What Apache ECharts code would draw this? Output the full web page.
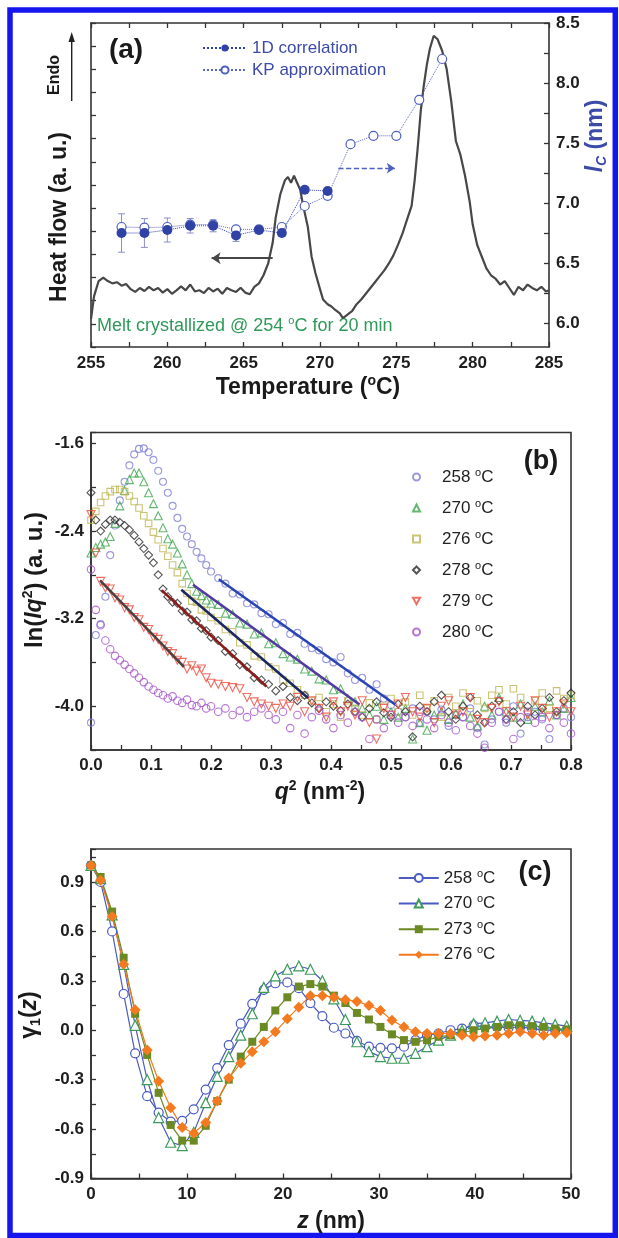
<!DOCTYPE html>
<html>
<head>
<meta charset="utf-8">
<script src="https://cdn.jsdelivr.net/npm/echarts@6/dist/echarts.min.js"></script>
<style>
  html, body { margin: 0; padding: 0; background: #fff; }
  #chart { width: 619px; height: 1238px; }
</style>
</head>
<body>
<div id="chart"></div>
<script>
const FONT = '"Liberation Sans", Arial, Helvetica, sans-serif'
const AXIS = '#333'

// ---- panel (a): DSC trace + long period ----
const dscT = [255.0, 255.2, 255.5, 255.8, 256.1, 256.4, 256.7, 257.0, 257.3, 257.6, 257.9, 258.2, 258.5, 258.8, 259.1, 259.4, 259.7, 260.0, 260.3, 260.6, 260.9, 261.2, 261.5, 261.8, 262.1, 262.4, 262.7, 263.0, 263.3, 263.6, 263.9, 264.2, 264.5, 264.8, 265.1, 265.4, 265.7, 266.0, 266.3, 266.6, 266.9, 267.1, 267.4, 267.7, 267.9, 268.1, 268.3, 268.5, 268.7, 268.9, 269.2, 269.45, 269.7, 270.0, 270.2, 270.5, 270.75, 271.0, 271.3, 271.5, 271.7, 271.9, 272.1, 272.4, 272.7, 273.0, 273.3, 273.6, 273.9, 274.2, 274.5, 274.8, 275.1, 275.4, 275.7, 276.0, 276.2, 276.4, 276.6, 276.8, 277.0, 277.2, 277.45, 277.7, 278.0, 278.3, 278.6, 278.9, 279.2, 279.5, 279.8, 280.0, 280.3, 280.6, 280.9, 281.2, 281.5, 281.8, 282.1, 282.4, 282.7, 283.0, 283.3, 283.6, 283.9, 284.2, 284.5, 284.8, 285.0]
const dscHF = [1.2, 2.2, 2.85, 3.0, 2.85, 2.75, 2.8, 2.65, 2.72, 2.5, 2.38, 2.55, 2.42, 2.6, 2.45, 2.55, 2.35, 2.5, 2.3, 2.45, 2.62, 2.45, 2.7, 2.4, 2.45, 2.33, 2.55, 2.4, 2.52, 2.3, 2.55, 2.45, 2.38, 2.56, 2.35, 2.28, 2.6, 2.75, 3.1, 3.6, 4.5, 5.6, 6.6, 7.2, 7.35, 7.1, 7.4, 7.1, 6.8, 6.1, 5.2, 3.9, 3.2, 2.5, 2.05, 1.85, 1.75, 1.6, 1.45, 1.25, 1.35, 1.45, 1.55, 1.85, 2.05, 2.3, 2.55, 2.8, 3.05, 3.3, 3.6, 3.95, 4.4, 4.9, 5.5, 6.1, 7.2, 8.6, 10.2, 11.3, 12.2, 12.9, 13.45, 13.3, 12.8, 12.0, 10.6, 8.9, 8.3, 7.4, 6.3, 5.3, 4.4, 3.9, 3.4, 3.1, 2.95, 2.7, 2.85, 2.55, 2.25, 2.6, 2.45, 2.7, 2.55, 2.45, 2.6, 2.4, 2.45]

const lcT = [257, 258.5, 260, 261.5, 263, 264.5, 266, 267.5, 269, 270.5, 272, 273.5, 275, 276.5, 278]
const lc1D = [6.75, 6.75, 6.775, 6.81, 6.81, 6.73, 6.775, 6.75, 7.11, 7.1]
const lc1DErr = [0.16, 0.12, 0.1, 0.06, 0.05, 0.05, 0.03, 0.03, 0.02, 0.02]
const lcKP = [6.8, 6.795, 6.8, 6.82, 6.82, 6.78, 6.78, 6.8, 6.975, 7.06, 7.49, 7.56, 7.56, 7.86, 8.2]
const arrowLeft = [[266.9, 6.54], [262.9, 6.54]]
const arrowRight = [[271.2, 7.29], [274.9, 7.29]]
const lcTicks = [6.0, 6.25, 6.5, 6.75, 7.0, 7.25, 7.5, 7.75, 8.0, 8.25, 8.5]
const lcLabels = [6.0, 6.5, 7.0, 7.5, 8.0, 8.5]

// ---- panel (b): ln(Iq^2) vs q^2 ----
const q2 = [0, 0.008, 0.016, 0.024, 0.032, 0.04, 0.048, 0.056, 0.064, 0.072, 0.08, 0.088, 0.096, 0.104, 0.112, 0.12, 0.128, 0.136, 0.144, 0.152, 0.16, 0.168, 0.176, 0.184, 0.192, 0.2, 0.212, 0.224, 0.236, 0.248, 0.26, 0.272, 0.284, 0.296, 0.308, 0.32, 0.332, 0.344, 0.356, 0.368, 0.38, 0.392, 0.404, 0.416, 0.428, 0.44, 0.452, 0.464, 0.476, 0.488, 0.5, 0.512, 0.524, 0.536, 0.548, 0.56, 0.572, 0.584, 0.596, 0.608, 0.62, 0.632, 0.644, 0.656, 0.668, 0.68, 0.692, 0.704, 0.716, 0.728, 0.74, 0.752, 0.764, 0.776, 0.788, 0.8]
const s258 = [-4.15, -3.35, -3.25, -3.0, -2.62, -2.35, -2.12, -1.95, -1.80, -1.70,
  -1.65, -1.645, -1.68, -1.75, -1.85, -1.95, -2.05, -2.17, -2.28, -2.38,
  -2.45, -2.52, -2.59, -2.65, -2.71, -2.77,
  -2.83, -2.88, -2.97, -2.98, -3.06, -3.07, -3.15, -3.16, -3.25, -3.24,
  -3.34, -3.33, -3.43, -3.47, -3.49, -3.57, -3.60, -3.55, -3.70, -3.76,
  -3.74, -3.85, -3.80, -3.93, -3.99, -4.05, -4.1, -4.02, -4.15, -4.05,
  -4.12, -4.03, -4.18, -4.08, -4.1, -4.02, -4.2, -4.35, -4.12, -4.05,
  -4.15, -4.0, -4.25, -4.1, -4.05, -4.12, -4.3, -4.08, -4.02, -4.1]
const s270 = [-2.6, -2.55, -2.52, -2.5, -2.45, -2.33, -2.17, -2.03, -1.93, -1.87,
  -1.87, -1.95, -2.05, -2.15, -2.26, -2.37, -2.47, -2.52, -2.60, -2.70,
  -2.80, -2.88, -2.95, -2.99, -3.03, -3.06,
  -3.07, -3.15, -3.16, -3.24, -3.25, -3.34, -3.33, -3.43, -3.42, -3.52,
  -3.55, -3.57, -3.66, -3.68, -3.75, -3.76, -3.85, -3.84, -3.93, -3.96,
  -4.02, -4.08, -4.0, -4.12, -4.05, -4.1, -4.02, -4.3, -4.15, -4.22,
  -4.08, -4.05, -4.12, -4.07, -3.98, -4.1, -4.18, -4.0, -4.08, -3.92,
  -4.05, -4.1, -3.98, -4.12, -4.0, -4.05, -3.95, -4.08, -4.02, -3.92]
const s276 = [-2.3, -2.22, -2.14, -2.08, -2.04, -2.02, -2.02, -2.04, -2.08, -2.13,
  -2.19, -2.26, -2.33, -2.41, -2.48, -2.56, -2.63, -2.71, -2.78, -2.88,
  -2.97, -3.04, -3.05, -3.12, -3.13, -3.19,
  -3.22, -3.30, -3.32, -3.42, -3.44, -3.54, -3.55, -3.64, -3.66, -3.76,
  -3.79, -3.85, -3.90, -3.95, -3.92, -4.05, -3.98, -4.1, -3.95, -4.02,
  -4.08, -3.97, -4.12, -4.0, -3.93, -4.05, -3.96, -4.08, -3.9, -4.02,
  -3.95, -4.1, -3.92, -4.0, -3.88, -4.05, -3.95, -4.02, -3.9, -3.85,
  -3.98, -3.84, -3.92, -4.05, -3.95, -3.88, -4.02, -3.86, -3.93, -3.9]
const s278 = [-2.05, -2.3, -2.4, -2.34, -2.3, -2.3, -2.32, -2.35, -2.39, -2.44,
  -2.5, -2.56, -2.62, -2.69, -2.8, -2.93, -3.0, -3.05, -3.06, -3.13,
  -3.14, -3.21, -3.22, -3.29, -3.31, -3.37,
  -3.40, -3.50, -3.52, -3.62, -3.64, -3.74, -3.76, -3.80, -3.86, -3.82,
  -3.92, -3.95, -3.9, -3.97, -4.02, -3.96, -4.0, -4.04, -3.98, -4.05,
  -4.1, -4.02, -3.96, -4.06, -4.1, -3.98, -4.05, -4.28, -4.0, -4.05,
  -3.96, -3.9, -4.05, -4.12, -4.0, -3.92, -4.08, -4.15, -4.0, -3.95,
  -4.12, -4.05, -4.15, -4.0, -4.08, -4.02, -3.92, -4.05, -3.95, -3.88]
const s279 = [-2.25, -2.6, -2.86, -2.92, -2.93, -3.01, -3.03, -3.10, -3.12, -3.19,
  -3.21, -3.28, -3.30, -3.37, -3.39, -3.45, -3.50, -3.52, -3.58, -3.60,
  -3.66, -3.63, -3.68, -3.66, -3.74, -3.79,
  -3.8, -3.82, -3.83, -3.84, -3.92, -3.96, -3.98, -4.0, -4.02, -3.98,
  -4.0, -3.92, -4.05, -3.95, -4.02, -4.1, -3.96, -4.05, -4.0, -4.08,
  -3.95, -4.15, -4.3, -4.02, -4.08, -3.98, -3.92, -4.05, -4.1, -4.02,
  -4.15, -4.0, -3.95, -4.08, -4.05, -3.92, -4.12, -4.15, -4.02, -3.96,
  -4.05, -4.1, -4.0, -4.08, -3.95, -4.02, -4.1, -4.05, -3.98, -4.05]
const s280 = [-2.75, -3.12, -3.26, -3.4, -3.48, -3.54, -3.58, -3.62, -3.66, -3.7,
  -3.74, -3.78, -3.82, -3.85, -3.88, -3.9, -3.93, -3.91, -3.95, -3.97,
  -3.94, -3.99, -4.0, -3.97, -4.02, -4.0,
  -4.05, -4.02, -4.08, -4.04, -4.1, -4.05, -4.02, -4.08, -4.12, -4.05,
  -4.2, -4.08, -4.25, -4.1, -4.04, -4.12, -4.2, -4.08, -4.15, -4.05,
  -4.1, -4.3, -4.12, -4.2, -4.08, -4.15, -4.1, -4.18, -4.05, -4.12,
  -4.2, -4.08, -4.15, -4.22, -4.1, -4.18, -4.25, -4.38, -4.15, -4.05,
  -4.12, -4.3, -4.1, -4.05, -4.15, -4.1, -4.2, -4.08, -4.15, -4.25]
const fit258 = [[0.213, -2.84], [0.507, -3.985]]
const fit270 = [[0.17, -2.89], [0.4475, -3.985]]
const fit276 = [[0.1505, -2.937], [0.3617, -3.925]]
const fit278 = [[0.1175, -2.94], [0.2924, -3.82]]
const fit279 = [[0.015, -2.85], [0.155, -3.64]]

// ---- panel (c): correlation function ----
const zc = [0, 1.0, 2.2, 3.4, 4.6, 5.85, 7.05, 8.3, 9.5, 10.7, 11.95, 13.15, 14.35, 15.6, 16.8, 18.0, 19.2, 20.45, 21.65, 22.85, 24.1, 25.3, 26.5, 27.7, 28.95, 30.15, 31.35, 32.6, 33.8, 35.0, 36.2, 37.45, 38.65, 39.85, 41.05, 42.3, 43.5, 44.7, 45.95, 47.15, 48.35, 49.55]
const g258 = [1.0, 0.9, 0.6, 0.22, -0.14, -0.40, -0.50, -0.555, -0.55, -0.48,
  -0.36, -0.23, -0.09, 0.04, 0.16, 0.245, 0.285, 0.29, 0.255, 0.165,
  0.085, 0.015, -0.02, -0.065, -0.10, -0.107, -0.11, -0.10, -0.06, -0.03,
  -0.02, 0.0, 0.01, 0.03, 0.02, 0.02, 0.015, 0.02, 0.01, 0.0, 0.0, 0.0]
const g270 = [1.0, 0.92, 0.70, 0.40, 0.03, -0.30, -0.53, -0.68, -0.70, -0.62,
  -0.44, -0.28, -0.16, -0.03, 0.10, 0.26, 0.33, 0.37, 0.39, 0.37,
  0.30, 0.19, 0.065, -0.07, -0.13, -0.16, -0.17, -0.17, -0.14, -0.10,
  -0.06, -0.03, 0.0, 0.04, 0.045, 0.055, 0.065, 0.06, 0.055, 0.045, 0.035, 0.025]
const g273 = [1.0, 0.93, 0.72, 0.44, 0.10, -0.15, -0.38, -0.575, -0.67, -0.67,
  -0.58, -0.43, -0.30, -0.16, -0.07, 0.02, 0.12, 0.20, 0.265, 0.28,
  0.265, 0.21, 0.165, 0.105, 0.065, 0.02, -0.025, -0.06, -0.07, -0.06,
  -0.04, -0.03, -0.015, 0.0, 0.01, 0.02, 0.03, 0.03, 0.025, 0.02, 0.01, 0.005]
const g276 = [1.0, 0.91, 0.69, 0.40, 0.125, -0.12, -0.31, -0.47, -0.59, -0.625,
  -0.56, -0.43, -0.29, -0.20, -0.13, -0.07, -0.01, 0.07, 0.14, 0.21,
  0.21, 0.20, 0.185, 0.175, 0.15, 0.12, 0.06, 0.02, -0.01, -0.02,
  -0.02, -0.02, -0.03, -0.04, -0.035, -0.03, -0.02, -0.01, -0.02, -0.03, -0.02, -0.015]

const pairs = (xs, ys) => ys.map((y, i) => [xs[i], y])

const tickLabel = { color: '#1e1e1e', fontSize: 17, fontWeight: 'bold', fontFamily: FONT }
const axisLine = { show: true, onZero: false, lineStyle: { color: AXIS, width: 1.6 } }
const axisTick = { show: true, inside: true, length: 5, lineStyle: { color: AXIS, width: 1.3 } }

function renderErr(params, api) {
  const x = api.value(0)
  const top = api.coord([x, api.value(2)])
  const bot = api.coord([x, api.value(1)])
  const w = 3.5
  const style = { stroke: '#8b90c6', lineWidth: 1 }
  return {
    type: 'group',
    children: [
      { type: 'line', shape: { x1: top[0], y1: top[1], x2: bot[0], y2: bot[1] }, style },
      { type: 'line', shape: { x1: top[0] - w, y1: top[1], x2: top[0] + w, y2: top[1] }, style },
      { type: 'line', shape: { x1: bot[0] - w, y1: bot[1], x2: bot[0] + w, y2: bot[1] }, style }
    ]
  }
}

const supRich = (size) => ({ fontSize: size, lineHeight: 10, verticalAlign: 'top', fontFamily: FONT })
const degName = (name) => name.slice(2) + ' {s|o}C'

function label(text, x, y, size, opts = {}) {
  return {
    type: 'text', x, y, rotation: opts.rotate ? Math.PI / 2 : 0, silent: true,
    style: {
      text, fontSize: size, fontWeight: opts.weight || 'bold', fontFamily: FONT,
      fill: opts.color || '#1a1a1a', align: opts.align || 'center', verticalAlign: 'middle',
      lineHeight: size + 4, rich: opts.rich || {}
    }
  }
}

const titleRich = {
  s: { fontSize: 14, fontWeight: 'bold', lineHeight: 12, verticalAlign: 'top', fontFamily: FONT },
  i: { fontSize: 23, fontWeight: 'bold', fontStyle: 'italic', lineHeight: 27, fontFamily: FONT },
  sub: { fontSize: 14, fontWeight: 'bold', lineHeight: 12, verticalAlign: 'bottom', fontFamily: FONT },
  ib: { fontSize: 14, fontWeight: 'bold', fontStyle: 'italic', lineHeight: 12, verticalAlign: 'bottom', fontFamily: FONT }
}

const chart = echarts.init(document.getElementById('chart'))

chart.setOption({
  animation: false,
  backgroundColor: '#fff',
  grid: [
    { left: 91, top: 23, width: 458, height: 324, show: false },
    { left: 91, top: 432.5, width: 480, height: 317.5, show: true, borderColor: AXIS, borderWidth: 1.6 },
    { left: 91, top: 849, width: 480, height: 329.5, show: true, borderColor: AXIS, borderWidth: 1.6 }
  ],
  xAxis: [
    { gridIndex: 0, type: 'value', min: 255, max: 285, interval: 2.5, position: 'bottom', axisLine, axisTick,
      splitLine: { show: false },
      axisLabel: { ...tickLabel, margin: 8, formatter: v => (v % 5 === 0 ? String(v) : '') } },
    { gridIndex: 0, type: 'value', min: 255, max: 285, interval: 2.5, position: 'top', axisLine, axisTick,
      splitLine: { show: false }, axisLabel: { show: false } },
    { gridIndex: 1, type: 'value', min: 0, max: 0.8, interval: 0.05, axisLine, axisTick,
      splitLine: { show: false },
      axisLabel: { ...tickLabel, margin: 7, formatter: v => { const r = Math.round(v * 100); return r % 10 === 0 ? (r / 100).toFixed(1) : '' } } },
    { gridIndex: 2, type: 'value', min: 0, max: 50, interval: 5, axisLine, axisTick,
      splitLine: { show: false },
      axisLabel: { ...tickLabel, margin: 7, formatter: v => (Math.round(v) % 10 === 0 ? String(Math.round(v)) : '') } }
  ],
  yAxis: [
    { gridIndex: 0, type: 'value', min: 0, max: 14, interval: 1, position: 'left', axisLine, axisTick,
      splitLine: { show: false }, axisLabel: { show: false } },
    { gridIndex: 0, type: 'value', min: 5.8, max: 8.5, position: 'right', axisLine,
      axisTick: { ...axisTick, customValues: lcTicks },
      splitLine: { show: false },
      axisLabel: { ...tickLabel, margin: 7, customValues: lcLabels, formatter: v => v.toFixed(1) } },
    { gridIndex: 1, type: 'value', min: -4.4, max: -1.5, interval: 0.4, axisLine, axisTick,
      splitLine: { show: false },
      axisLabel: { ...tickLabel, margin: 7, formatter: v => { const r = Math.round(v * 10); return r % 8 === 0 ? (r / 10).toFixed(1) : '' } } },
    { gridIndex: 2, type: 'value', min: -0.9, max: 1.1, interval: 0.15, axisLine, axisTick,
      splitLine: { show: false },
      axisLabel: { ...tickLabel, margin: 7, formatter: v => { const r = Math.round(v * 100); return r % 30 === 0 ? (r / 100).toFixed(1) : '' } } }
  ],
  legend: [
    { data: ['1D correlation', 'KP approximation'], orient: 'vertical', left: 197, top: 33,
      itemWidth: 44, itemHeight: 9, itemGap: 2,
      textStyle: { color: '#3c4aa8', fontSize: 17, fontFamily: FONT, lineHeight: 20 } },
    { data: ['b:258', 'b:270', 'b:276', 'b:278', { name: 'b:279', icon: 'path://M0,0L10,0L5,9Z' }, 'b:280'],
      orient: 'vertical', left: 407, top: 462,
      itemWidth: 7, itemHeight: 7, itemGap: 11, formatter: degName,
      textStyle: { color: '#222', fontSize: 17, fontFamily: FONT, lineHeight: 20, padding: [0, 0, 0, 17], rich: { s: supRich(11) } } },
    { data: ['c:258', 'c:270', 'c:273', 'c:276'], orient: 'vertical', left: 392.8, top: 863,
      itemWidth: 40, itemHeight: 10, itemGap: 5.6, formatter: degName,
      textStyle: { color: '#222', fontSize: 17, fontFamily: FONT, lineHeight: 20, rich: { s: supRich(11) } } }
  ],
  series: [
    // (a)
    { name: 'DSC', type: 'line', xAxisIndex: 0, yAxisIndex: 0, data: pairs(dscT, dscHF),
      symbol: 'none', lineStyle: { color: '#474747', width: 2.2 }, z: 2 },
    { name: 'err', type: 'custom', xAxisIndex: 0, yAxisIndex: 1, renderItem: renderErr,
      encode: { x: 0, y: [1, 2] }, z: 3,
      data: lc1D.map((v, i) => [lcT[i], v - lc1DErr[i], v + lc1DErr[i]]) },
    { name: 'KP approximation', type: 'line', xAxisIndex: 0, yAxisIndex: 1, data: pairs(lcT, lcKP),
      symbol: 'circle', symbolSize: 9, z: 4,
      itemStyle: { color: '#fff', borderColor: '#4f5fc0', borderWidth: 1.2 },
      lineStyle: { color: '#5a68c4', width: 1, type: 'dotted' } },
    { name: '1D correlation', type: 'line', xAxisIndex: 0, yAxisIndex: 1, data: pairs(lcT, lc1D),
      symbol: 'circle', symbolSize: 10, z: 5,
      itemStyle: { color: '#3142a6' },
      lineStyle: { color: '#3142a6', width: 1, type: 'dotted' } },
    { name: 'arrowL', type: 'lines', coordinateSystem: 'cartesian2d', xAxisIndex: 0, yAxisIndex: 1,
      data: [{ coords: arrowLeft }], symbol: ['none', 'arrow'], symbolSize: 9,
      lineStyle: { color: '#474747', width: 2, opacity: 1 }, z: 3 },
    { name: 'arrowR', type: 'lines', coordinateSystem: 'cartesian2d', xAxisIndex: 0, yAxisIndex: 1,
      data: [{ coords: arrowRight }], symbol: ['none', 'arrow'], symbolSize: 8,
      lineStyle: { color: '#4f5fc0', width: 1.3, type: 'dashed', opacity: 1 }, z: 3 },

    // (b)
    { name: 'b:258', type: 'scatter', xAxisIndex: 2, yAxisIndex: 2, data: pairs(q2, s258),
      symbol: 'circle', symbolSize: 7, itemStyle: { color: 'rgba(0,0,0,0)', borderColor: '#7f80d6', borderWidth: 1.1 } },
    { name: 'b:270', type: 'scatter', xAxisIndex: 2, yAxisIndex: 2, data: pairs(q2, s270),
      symbol: 'triangle', symbolSize: 8, itemStyle: { color: 'rgba(0,0,0,0)', borderColor: '#3fa54e', borderWidth: 1.1 } },
    { name: 'b:276', type: 'scatter', xAxisIndex: 2, yAxisIndex: 2, data: pairs(q2, s276),
      symbol: 'rect', symbolSize: 6.5, itemStyle: { color: 'rgba(0,0,0,0)', borderColor: '#bdb553', borderWidth: 1.1 } },
    { name: 'b:278', type: 'scatter', xAxisIndex: 2, yAxisIndex: 2, data: pairs(q2, s278),
      symbol: 'diamond', symbolSize: 8, itemStyle: { color: 'rgba(0,0,0,0)', borderColor: '#2a2a2a', borderWidth: 1.1 } },
    { name: 'b:279', type: 'scatter', xAxisIndex: 2, yAxisIndex: 2, data: pairs(q2, s279),
      symbol: 'triangle', symbolRotate: 180, symbolSize: 8, itemStyle: { color: 'rgba(0,0,0,0)', borderColor: '#ee4a3c', borderWidth: 1.1 } },
    { name: 'b:280', type: 'scatter', xAxisIndex: 2, yAxisIndex: 2, data: pairs(q2, s280),
      symbol: 'circle', symbolSize: 7.5, itemStyle: { color: 'rgba(0,0,0,0)', borderColor: '#a651c8', borderWidth: 1.1 } },
    { name: 'fit258', type: 'line', xAxisIndex: 2, yAxisIndex: 2, data: fit258, symbol: 'none', z: 5,
      lineStyle: { color: '#2a45b2', width: 2.6 } },
    { name: 'fit270', type: 'line', xAxisIndex: 2, yAxisIndex: 2, data: fit270, symbol: 'none', z: 5,
      lineStyle: { color: '#5238a0', width: 2.6 } },
    { name: 'fit276', type: 'line', xAxisIndex: 2, yAxisIndex: 2, data: fit276, symbol: 'none', z: 5,
      lineStyle: { color: '#1c2760', width: 2.6 } },
    { name: 'fit278', type: 'line', xAxisIndex: 2, yAxisIndex: 2, data: fit278, symbol: 'none', z: 5,
      lineStyle: { color: '#8c1a1a', width: 2.6 } },
    { name: 'fit279', type: 'line', xAxisIndex: 2, yAxisIndex: 2, data: fit279, symbol: 'none', z: 5,
      lineStyle: { color: '#4d4040', width: 2.6 } },

    // (c)
    { name: 'c:258', type: 'line', xAxisIndex: 3, yAxisIndex: 3, data: pairs(zc, g258),
      symbol: 'circle', symbolSize: 9,
      itemStyle: { color: '#fff', borderColor: '#4a5bc4', borderWidth: 1.2 },
      lineStyle: { color: '#4a5bc4', width: 1.2 } },
    { name: 'c:270', type: 'line', xAxisIndex: 3, yAxisIndex: 3, data: pairs(zc, g270),
      symbol: 'triangle', symbolSize: 10,
      itemStyle: { color: '#fff', borderColor: '#3d9a5a', borderWidth: 1.2 },
      lineStyle: { color: '#4a5bc4', width: 1.2 } },
    { name: 'c:273', type: 'line', xAxisIndex: 3, yAxisIndex: 3, data: pairs(zc, g273),
      symbol: 'rect', symbolSize: 8,
      itemStyle: { color: '#6b8a23' },
      lineStyle: { color: '#6b8a23', width: 1.2 } },
    { name: 'c:276', type: 'line', xAxisIndex: 3, yAxisIndex: 3, data: pairs(zc, g276),
      symbol: 'diamond', symbolSize: 11,
      itemStyle: { color: '#f47a1f' },
      lineStyle: { color: '#f47a1f', width: 1.2 } }
  ],
  graphic: [
    { type: 'rect', silent: true, shape: { x: 10, y: 10, width: 605.3, height: 1225.5 },
      style: { fill: 'none', stroke: '#1515ee', lineWidth: 5.5 } },
    label('(a)', 126, 50, 28),
    label('Endo', 55, 75, 16, { rotate: true }),
    { type: 'line', silent: true, shape: { x1: 71.7, y1: 101, x2: 71.7, y2: 40 }, style: { stroke: '#222', lineWidth: 1.4 } },
    { type: 'polygon', silent: true, shape: { points: [[68.5, 42], [74.9, 42], [71.7, 32]] }, style: { fill: '#222' } },
    label('Heat flow (a. u.)', 60, 217, 23, { rotate: true }),
    label('{i|l}{ib|C} (nm)', 596, 136, 23, { rotate: true, color: '#3c4aa8', rich: titleRich }),
    label('Temperature ({s|o}C)', 308, 388, 23, { rich: titleRich }),
    label('Melt crystallized @ 254 {s|o}C for 20 min', 97, 326, 18,
      { weight: 'normal', align: 'left', color: '#2f9a5a', rich: { s: { fontSize: 11, lineHeight: 10, verticalAlign: 'top' } } }),
    label('(b)', 541, 462, 27),
    label('ln({i|I}{i|q}{s|2}) (a. u.)', 35, 580, 24, { rotate: true, rich: titleRich }),
    label('{i|q}{s|2} (nm{s|-2})', 320, 793, 23, { rich: titleRich }),
    label('(c)', 535, 873, 27),
    label('\u03b3{sub|1}({i|z})', 30, 1015, 23, { rotate: true, rich: titleRich }),
    label('{i|z} (nm)', 331, 1222, 23, { rich: titleRich })
  ]
})
</script>
</body>
</html>
